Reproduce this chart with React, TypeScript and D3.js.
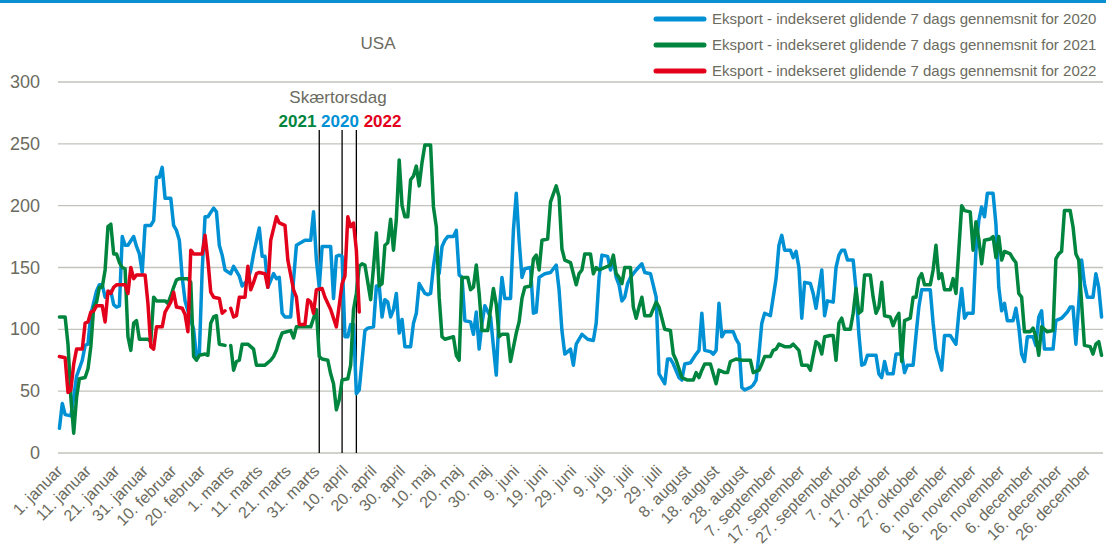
import React from "react";
import * as d3 from "d3";

type Pt = [number, number | null];

// Day index (0 = 1. januar, leap-year calendar) and indexed value
const series2020: Pt[] = [[0,20],[1,40],[2,31],[4,30],[5,45],[6,62],[8,75],[9,87],[10,88],[11,112],[13,131],[14,136],[15,136],[16,126],[18,131],[19,120],[20,118],[21,119],[22,175],[23,168],[24,168],[26,175],[27,167],[28,161],[29,146],[30,184],[32,184],[33,188],[34,223],[35,223],[36,231],[37,206],[39,206],[40,184],[41,180],[42,172],[43,142],[44,123],[45,115],[47,100],[48,78],[49,80],[50,148],[51,191],[52,191],[54,198],[55,195],[56,168],[57,160],[58,148],[60,145],[61,151],[63,143],[64,135],[66,140],[67,148],[68,161],[70,182],[71,159],[72,159],[73,134],[75,145],[76,141],[77,142],[78,113],[79,110],[81,110],[82,140],[83,168],[86,172],[88,172],[89,195],[90,156],[91,134],[92,167],[95,167],[96,125],[97,159],[98,160],[99,159],[100,94],[101,94],[102,104],[103,104],[104,48],[105,51],[107,99],[108,101],[110,102],[111,135],[112,135],[113,110],[114,124],[115,122],[116,110],[117,116],[118,129],[119,97],[120,108],[121,86],[123,86],[124,105],[125,113],[126,137],[128,129],[129,128],[130,129],[131,151],[132,167],[133,145],[134,167],[135,172],[136,175],[138,175],[139,180],[140,144],[141,142],[142,107],[144,106],[145,96],[146,114],[147,84],[148,105],[149,119],[151,110],[152,86],[153,63],[154,113],[155,142],[156,125],[158,125],[159,180],[160,210],[161,172],[162,142],[163,149],[165,150],[166,113],[167,114],[168,142],[170,145],[172,146],[174,152],[175,132],[176,99],[177,80],[179,84],[180,71],[181,88],[183,96],[185,92],[187,91],[188,105],[189,142],[190,160],[192,159],[193,148],[194,157],[195,142],[196,136],[197,123],[198,126],[199,137],[200,142],[202,148],[204,153],[205,146],[207,145],[209,126],[210,64],[212,56],[213,76],[214,76],[215,72],[217,61],[218,59],[219,72],[221,73],[223,80],[224,83],[225,113],[226,83],[228,82],[229,80],[230,83],[231,121],[232,94],[233,98],[236,98],[237,92],[238,88],[239,53],[240,51],[242,53],[243,55],[244,59],[245,80],[246,105],[247,113],[249,111],[251,141],[252,168],[253,176],[254,164],[256,164],[257,158],[258,163],[259,150],[260,109],[261,138],[263,137],[264,129],[265,117],[267,148],[268,111],[269,123],[271,122],[272,150],[273,160],[274,164],[275,164],[276,156],[278,156],[279,132],[280,96],[281,71],[282,72],[283,79],[286,79],[287,64],[288,61],[289,74],[290,64],[292,64],[293,80],[295,80],[296,65],[297,71],[299,71],[300,95],[301,118],[302,132],[305,132],[306,105],[307,84],[309,67],[310,95],[312,95],[314,88],[315,113],[316,133],[317,109],[318,113],[320,113],[321,164],[322,188],[323,199],[324,191],[325,210],[327,210],[328,185],[329,134],[330,115],[331,121],[332,107],[334,107],[335,117],[336,102],[337,80],[338,74],[339,94],[341,94],[342,87],[343,110],[344,115],[345,84],[348,84],[349,107],[351,109],[353,114],[354,118],[355,118],[356,88],[357,121],[358,156],[359,137],[360,126],[362,126],[363,145],[364,134],[365,110]];

const series2021: Pt[] = [[0,110],[2,110],[3,88],[4,45],[5,16],[6,45],[7,60],[9,61],[10,68],[11,86],[12,118],[13,122],[14,134],[15,134],[16,148],[17,183],[18,185],[19,161],[20,161],[21,154],[22,150],[23,149],[24,94],[25,83],[26,105],[27,107],[28,92],[31,92],[32,90],[33,126],[34,123],[37,123],[38,121],[39,127],[40,134],[41,140],[42,141],[45,141],[46,138],[47,78],[48,75],[49,79],[51,80],[52,79],[53,105],[54,110],[55,111],[56,88],[58,87],[59,null],[60,87],[61,67],[62,74],[63,75],[64,88],[66,88],[67,86],[68,84],[69,71],[72,71],[74,75],[75,78],[76,83],[77,91],[78,97],[81,99],[82,93],[83,102],[86,102],[88,102],[89,109],[90,116],[91,78],[92,76],[94,75],[95,64],[96,56],[97,35],[98,43],[99,59],[101,60],[102,71],[103,116],[104,129],[105,151],[106,153],[107,152],[109,124],[110,150],[111,178],[112,135],[113,137],[114,168],[115,170],[116,189],[117,164],[118,189],[119,237],[120,200],[121,191],[122,191],[123,221],[124,224],[125,232],[126,216],[127,235],[128,249],[130,249],[131,199],[132,183],[133,126],[134,94],[135,92],[138,94],[139,79],[140,75],[141,142],[143,142],[144,132],[145,134],[146,152],[147,129],[148,99],[150,99],[152,133],[153,120],[154,94],[155,96],[157,96],[158,74],[160,97],[161,106],[162,125],[163,134],[165,135],[166,157],[167,160],[168,148],[169,172],[171,173],[172,203],[174,216],[175,207],[176,165],[177,156],[179,154],[181,136],[182,145],[183,148],[184,161],[186,161],[187,145],[188,150],[189,148],[191,150],[193,152],[194,160],[195,145],[196,142],[197,137],[198,150],[200,150],[201,118],[202,109],[203,118],[204,126],[205,111],[207,111],[209,122],[210,118],[211,109],[212,100],[214,99],[215,80],[216,75],[218,61],[220,59],[222,59],[223,65],[224,61],[225,67],[226,72],[228,72],[230,56],[231,67],[233,65],[234,65],[235,74],[237,76],[239,75],[242,75],[243,65],[245,67],[246,72],[247,78],[249,78],[250,83],[251,84],[252,88],[254,86],[256,86],[257,88],[259,83],[260,71],[262,71],[263,67],[265,90],[266,88],[267,80],[268,94],[270,95],[271,95],[272,75],[273,105],[274,109],[275,100],[277,100],[278,113],[279,133],[280,113],[281,115],[282,144],[284,144],[285,126],[286,113],[287,118],[288,138],[289,111],[291,110],[292,103],[293,109],[294,113],[295,74],[296,107],[298,109],[299,126],[300,126],[301,141],[302,145],[303,136],[305,136],[306,148],[307,168],[308,141],[309,145],[310,132],[312,132],[313,141],[314,129],[315,164],[316,200],[317,196],[319,195],[320,164],[321,187],[322,173],[323,153],[324,172],[326,173],[327,175],[328,158],[329,175],[330,156],[331,163],[333,161],[334,157],[335,154],[336,129],[337,126],[338,98],[340,98],[341,101],[342,94],[343,79],[344,102],[346,98],[348,99],[349,157],[350,161],[351,163],[352,196],[354,196],[355,183],[356,161],[357,156],[359,87],[361,86],[362,80],[363,88],[364,90],[365,79]];

const series2022: Pt[] = [[0,78],[2,77],[3,49],[4,51],[5,72],[6,84],[8,84],[9,105],[10,106],[11,114],[12,115],[13,119],[15,119],[16,106],[17,131],[18,129],[19,134],[20,136],[23,136],[24,129],[25,150],[26,141],[27,144],[30,144],[31,121],[32,86],[33,84],[34,102],[36,102],[37,114],[39,122],[40,130],[41,118],[43,117],[44,112],[45,98],[46,164],[47,161],[50,161],[51,176],[52,156],[53,130],[54,126],[56,125],[57,113],[58,115],[59,null],[60,117],[61,110],[62,111],[63,126],[65,126],[66,151],[67,132],[68,138],[69,145],[70,146],[72,145],[73,134],[74,172],[76,191],[77,186],[79,184],[80,156],[82,132],[83,126],[84,104],[86,104],[87,124],[88,122],[89,113],[90,132],[92,133],[93,126],[95,116],[97,102],[99,137],[100,143],[101,191],[102,183],[103,186],[104,164],[105,114]];

const tickLabels = ["1. januar","11. januar","21. januar","31. januar","10. februar","20. februar","1. marts","11. marts","21. marts","31. marts","10. april","20. april","30. april","10. maj","20. maj","30. maj","9. juni","19. juni","29. juni","9. juli","19. juli","29. juli","8. august","18. august","28. august","7. september","17. september","27. september","7. oktober","17. oktober","27. oktober","6. november","16. november","26. november","6. december","16. december","26. december"];
const yTicks = [0, 50, 100, 150, 200, 250, 300];
const legendLabels = [
  "Eksport - indekseret glidende 7 dags gennemsnit for 2020",
  "Eksport - indekseret glidende 7 dags gennemsnit for 2021",
  "Eksport - indekseret glidende 7 dags gennemsnit for 2022",
];
const easterDays = [91, 99, 104]; // Skærtorsdag 2021, 2020, 2022
const easterYears = ["2021", "2020", "2022"];

const BLUE = "#0091d5";
const GREEN = "#00853e";
const RED = "#e3001b";
const TEXT = "#6b6b60";
const GRID = "#c3c3bb";
const FONT = "'Liberation Sans', Arial, sans-serif";

export default function App() {
  const W = 1106, H = 558;
  const x = d3.scaleLinear().domain([0, 366]).range([58, 1103]);
  const y = d3.scaleLinear().domain([0, 300]).range([453, 82]);
  const cx = (d: number) => x(d + 0.5);
  const line = d3
    .line<Pt>()
    .defined((d) => d[1] != null)
    .x((d) => cx(d[0]))
    .y((d) => y(d[1] as number));

  const seriesList = [
    { data: series2020, color: BLUE },
    { data: series2021, color: GREEN },
    { data: series2022, color: RED },
  ];
  const yearColors = [GREEN, BLUE, RED];

  return (
    <svg
      width={W}
      height={H}
      style={{ position: "absolute", left: 0, top: 0, background: "#fff" }}
      fontFamily={FONT}
    >
      <rect x={0} y={0} width={W} height={3} fill="#0a8fd0" />
      {yTicks.map((t) => (
        <g key={t}>
          <line x1={58} x2={1103} y1={y(t)} y2={y(t)} stroke={GRID} strokeWidth={1.3} />
          <text x={40} y={y(t) + 6} textAnchor="end" fontSize={18} fill={TEXT}>
            {t}
          </text>
        </g>
      ))}
      {tickLabels.map((lab, i) => (
        <text
          key={lab}
          transform={`translate(${cx(i * 10) + 4},${472}) rotate(-45)`}
          textAnchor="end"
          fontSize={16}
          fill={TEXT}
        >
          {lab}
        </text>
      ))}
      <text x={378} y={49} textAnchor="middle" fontSize={17} fill={TEXT}>
        USA
      </text>
      {easterDays.map((d) => (
        <line key={d} x1={cx(d)} x2={cx(d)} y1={130} y2={453} stroke="#000" strokeWidth={1.3} />
      ))}
      <text x={338} y={103} textAnchor="middle" fontSize={17} fill={TEXT}>
        Skærtorsdag
      </text>
      <text x={340} y={127} textAnchor="middle" fontSize={17} fontWeight="bold">
        {easterYears.map((yr, i) => (
          <tspan key={yr} fill={yearColors[i]}>
            {(i > 0 ? " " : "") + yr}
          </tspan>
        ))}
      </text>
      {seriesList.map((s, i) => (
        <path
          key={i}
          d={line(s.data) || ""}
          fill="none"
          stroke={s.color}
          strokeWidth={3.5}
          strokeLinejoin="round"
          strokeLinecap="round"
        />
      ))}
      {legendLabels.map((lab, i) => (
        <g key={lab} transform={`translate(0,${19 + i * 26})`}>
          <line x1={656} x2={704} y1={0} y2={0} stroke={seriesList[i].color} strokeWidth={5} strokeLinecap="round" />
          <text x={712} y={5} fontSize={15} fill={TEXT}>
            {lab}
          </text>
        </g>
      ))}
    </svg>
  );
}
